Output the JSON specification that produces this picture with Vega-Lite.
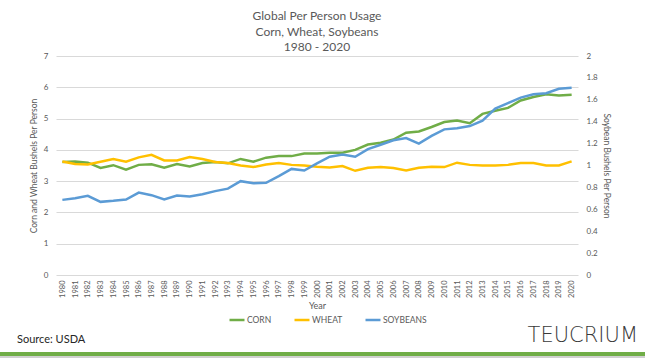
{
  "$schema": "https://vega.github.io/schema/vega-lite/v6.json",
  "config": {"view": {"stroke": null}, "font": "Lato"},
  "padding": {"left": -13, "right": 0, "top": 10, "bottom": 20},
  "bounds": "flush",
  "center": true,
  "spacing": 77,
  "resolve": {"legend": {"color": "independent"}},
  "datasets": {
    "usage": [
      {"year": "1980", "CORN": 3.61, "WHEAT": 3.63, "SOYBEANS": 0.686},
      {"year": "1981", "CORN": 3.63, "WHEAT": 3.55, "SOYBEANS": 0.700},
      {"year": "1982", "CORN": 3.59, "WHEAT": 3.53, "SOYBEANS": 0.723},
      {"year": "1983", "CORN": 3.42, "WHEAT": 3.62, "SOYBEANS": 0.668},
      {"year": "1984", "CORN": 3.51, "WHEAT": 3.71, "SOYBEANS": 0.677},
      {"year": "1985", "CORN": 3.37, "WHEAT": 3.62, "SOYBEANS": 0.689},
      {"year": "1986", "CORN": 3.52, "WHEAT": 3.76, "SOYBEANS": 0.753},
      {"year": "1987", "CORN": 3.54, "WHEAT": 3.84, "SOYBEANS": 0.729},
      {"year": "1988", "CORN": 3.43, "WHEAT": 3.66, "SOYBEANS": 0.689},
      {"year": "1989", "CORN": 3.55, "WHEAT": 3.66, "SOYBEANS": 0.726},
      {"year": "1990", "CORN": 3.47, "WHEAT": 3.77, "SOYBEANS": 0.717},
      {"year": "1991", "CORN": 3.58, "WHEAT": 3.71, "SOYBEANS": 0.738},
      {"year": "1992", "CORN": 3.61, "WHEAT": 3.61, "SOYBEANS": 0.766},
      {"year": "1993", "CORN": 3.57, "WHEAT": 3.58, "SOYBEANS": 0.789},
      {"year": "1994", "CORN": 3.71, "WHEAT": 3.50, "SOYBEANS": 0.857},
      {"year": "1995", "CORN": 3.62, "WHEAT": 3.45, "SOYBEANS": 0.838},
      {"year": "1996", "CORN": 3.75, "WHEAT": 3.53, "SOYBEANS": 0.842},
      {"year": "1997", "CORN": 3.80, "WHEAT": 3.58, "SOYBEANS": 0.903},
      {"year": "1998", "CORN": 3.80, "WHEAT": 3.52, "SOYBEANS": 0.969},
      {"year": "1999", "CORN": 3.88, "WHEAT": 3.50, "SOYBEANS": 0.954},
      {"year": "2000", "CORN": 3.88, "WHEAT": 3.46, "SOYBEANS": 1.02},
      {"year": "2001", "CORN": 3.91, "WHEAT": 3.44, "SOYBEANS": 1.08},
      {"year": "2002", "CORN": 3.91, "WHEAT": 3.48, "SOYBEANS": 1.10},
      {"year": "2003", "CORN": 4.00, "WHEAT": 3.33, "SOYBEANS": 1.08},
      {"year": "2004", "CORN": 4.17, "WHEAT": 3.43, "SOYBEANS": 1.15},
      {"year": "2005", "CORN": 4.23, "WHEAT": 3.45, "SOYBEANS": 1.19},
      {"year": "2006", "CORN": 4.33, "WHEAT": 3.42, "SOYBEANS": 1.23},
      {"year": "2007", "CORN": 4.55, "WHEAT": 3.34, "SOYBEANS": 1.25},
      {"year": "2008", "CORN": 4.59, "WHEAT": 3.43, "SOYBEANS": 1.20},
      {"year": "2009", "CORN": 4.73, "WHEAT": 3.46, "SOYBEANS": 1.27},
      {"year": "2010", "CORN": 4.89, "WHEAT": 3.45, "SOYBEANS": 1.33},
      {"year": "2011", "CORN": 4.94, "WHEAT": 3.59, "SOYBEANS": 1.34},
      {"year": "2012", "CORN": 4.85, "WHEAT": 3.52, "SOYBEANS": 1.36},
      {"year": "2013", "CORN": 5.15, "WHEAT": 3.50, "SOYBEANS": 1.41},
      {"year": "2014", "CORN": 5.25, "WHEAT": 3.50, "SOYBEANS": 1.52},
      {"year": "2015", "CORN": 5.34, "WHEAT": 3.52, "SOYBEANS": 1.57},
      {"year": "2016", "CORN": 5.58, "WHEAT": 3.58, "SOYBEANS": 1.62},
      {"year": "2017", "CORN": 5.69, "WHEAT": 3.58, "SOYBEANS": 1.65},
      {"year": "2018", "CORN": 5.78, "WHEAT": 3.50, "SOYBEANS": 1.66},
      {"year": "2019", "CORN": 5.74, "WHEAT": 3.50, "SOYBEANS": 1.70},
      {"year": "2020", "CORN": 5.76, "WHEAT": 3.63, "SOYBEANS": 1.71}
    ]
  },
  "vconcat": [
    {
      "width": 522,
      "height": 219,
      "title": {
        "text": ["Global Per Person Usage", "Corn, Wheat, Soybeans", "1980 - 2020"],
        "fontSize": 12,
        "fontWeight": "normal",
        "color": "#595959",
        "lineHeight": 15.5,
        "offset": -2
      },
      "layer": [
        {
          "data": {"name": "usage"},
          "transform": [{"fold": ["CORN", "WHEAT"], "as": ["series", "value"]}],
          "mark": {"type": "line", "strokeWidth": 2.5},
          "encoding": {
            "x": {
              "field": "year", "type": "ordinal", "title": "Year",
              "axis": {
                "labelAngle": -90, "labelFontSize": 7.5, "labelColor": "#595959",
                "ticks": false, "domain": false, "grid": false, "labelPadding": 5,
                "titleFontSize": 9, "titleFontWeight": "normal", "titleColor": "#595959",
                "titlePadding": 4
              }
            },
            "y": {
              "field": "value", "type": "quantitative",
              "scale": {"domain": [0, 7]},
              "axis": {
                "title": "Corn and Wheat Bushels Per Person",
                "values": [0, 1, 2, 3, 4, 5, 6, 7],
                "grid": true, "gridColor": "#d9d9d9", "domain": false, "ticks": false,
                "labelFontSize": 8, "labelColor": "#595959", "labelPadding": 8,
                "titleFontSize": 8.5, "titleFontWeight": "normal", "titleColor": "#595959",
                "titlePadding": 5
              }
            },
            "color": {
              "field": "series", "type": "nominal",
              "scale": {"domain": ["CORN", "WHEAT", "SOYBEANS"], "range": ["#70ad47", "#ffc000", "#5b9bd5"]},
              "legend": {
                "orient": "none", "legendX": 172, "legendY": 255,
                "direction": "horizontal", "title": null,
                "symbolType": "stroke", "symbolSize": 225, "symbolStrokeWidth": 2.5,
                "labelFontSize": 8.5, "labelColor": "#595959", "columnPadding": 17,
                "labelOffset": 1
              }
            }
          }
        },
        {
          "data": {"name": "usage"},
          "transform": [{"fold": ["SOYBEANS"], "as": ["series", "value"]}],
          "mark": {"type": "line", "strokeWidth": 2.5},
          "encoding": {
            "x": {"field": "year", "type": "ordinal"},
            "y": {
              "field": "value", "type": "quantitative",
              "scale": {"domain": [0, 2]},
              "axis": {
                "orient": "right",
                "title": "Soybean Bushels Per Person",
                "values": [0, 0.2, 0.4, 0.6, 0.8, 1, 1.2, 1.4, 1.6, 1.8, 2],
                "format": "~g",
                "grid": false, "domain": false, "ticks": false,
                "labelFontSize": 8, "labelColor": "#595959", "labelPadding": 8,
                "titleFontSize": 8.5, "titleFontWeight": "normal", "titleColor": "#595959",
                "titlePadding": 4
              }
            },
            "color": {"field": "series", "type": "nominal"}
          }
        }
      ],
      "resolve": {"scale": {"y": "independent"}}
    },
    {
      "width": 658,
      "height": 4,
      "layer": [
        {
          "data": {"values": [{}]},
          "mark": {"type": "rect", "color": "#70ad47"},
          "encoding": {
            "x": {"value": 0},
            "x2": {"value": "width"},
            "y": {"value": 0},
            "y2": {"value": "height"}
          }
        },
        {
          "data": {"values": [{}]},
          "mark": {"type": "rule", "color": "#d0d0d0", "strokeWidth": 2},
          "encoding": {
            "x": {"value": 0},
            "x2": {"value": "width"},
            "y": {"value": 5}
          }
        },
        {
          "data": {"values": [{"label": "Source: USDA"}]},
          "mark": {
            "type": "text", "align": "left", "baseline": "alphabetic",
            "fontSize": 11, "color": "#262626", "dx": 29, "dy": -9
          },
          "encoding": {
            "x": {"value": 0},
            "y": {"value": 0},
            "text": {"field": "label", "type": "nominal"}
          }
        },
        {
          "data": {"values": [{"label": "TEUCRIUM"}]},
          "mark": {
            "type": "text", "align": "right", "baseline": "alphabetic",
            "font": "DejaVu Sans", "fontSize": 21, "fontWeight": 200, "color": "#3a3a3a",
            "dx": -8, "dy": -10
          },
          "encoding": {
            "x": {"value": "width"},
            "y": {"value": 0},
            "text": {"field": "label", "type": "nominal"}
          }
        }
      ]
    }
  ]
}
